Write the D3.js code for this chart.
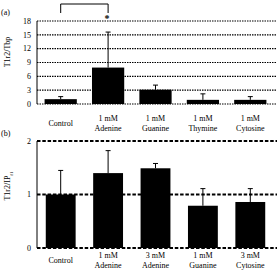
<!DOCTYPE html>
<html>
<head>
<meta charset="utf-8">
<script src="https://cdn.jsdelivr.net/npm/d3@7"></script>
<style>
  body { margin: 0; background: #fff; }
</style>
</head>
<body>
<div id="chart"></div>
<script>
// panel (a) data
const catsA = [["Control"], ["1 mM", "Adenine"], ["1 mM", "Guanine"], ["1 mM", "Thymine"], ["1 mM", "Cytosine"]];
const valsA = [1.05, 7.9, 3.1, 0.9, 0.9];
const errA = [1.6, 15.6, 4.1, 2.2, 1.6];
const ticksA = [0, 3, 6, 9, 12, 15, 18];

// panel (b) data
const catsB = [["Control"], ["1 mM", "Adenine"], ["3 mM", "Adenine"], ["1 mM", "Guanine"], ["3 mM", "Cytosine"]];
const valsB = [1.0, 1.4, 1.49, 0.79, 0.86];
const errB = [1.45, 1.82, 1.58, 1.11, 1.11];
const ticksB = [0, 1, 2];

const width = 280, height = 270;
const serif = "'Liberation Serif', 'Times New Roman', 'DejaVu Serif', serif";
const svg = d3.select("#chart").append("svg")
    .attr("width", width)
    .attr("height", height)
    .attr("font-family", serif);

function panel(opts) {
    const idx = opts.cats.map((d, i) => i);
    const x = d3.scaleBand()
        .domain(idx)
        .range([37, 274])
        .paddingInner(opts.pad)
        .paddingOuter(opts.pad / 2);
    const y = d3.scaleLinear()
        .domain([0, opts.ticks[opts.ticks.length - 1]])
        .range(opts.yRange);

    const g = svg.append("g");

    // grid lines (dashed)
    g.selectAll(".grid")
        .data(opts.ticks)
        .enter().append("line")
        .attr("x1", 37)
        .attr("x2", 277)
        .attr("y1", d => y(d))
        .attr("y2", d => y(d))
        .style("stroke", "#000")
        .style("stroke-width", opts.gridWidth)
        .style("stroke-dasharray", opts.dash);

    // left axis line
    g.append("line")
        .attr("x1", 37).attr("x2", 37)
        .attr("y1", y(0)).attr("y2", y(opts.ticks[opts.ticks.length - 1]))
        .style("stroke", "#000")
        .style("stroke-width", 1);

    // tick labels
    g.selectAll(".tick-label")
        .data(opts.ticks)
        .enter().append("text")
        .attr("x", 31)
        .attr("y", d => y(d))
        .attr("dy", "0.35em")
        .attr("text-anchor", "end")
        .attr("font-family", serif)
        .style("font-size", "8px")
        .text(d => d);

    // bars
    g.selectAll(".bar")
        .data(opts.vals)
        .enter().append("rect")
        .attr("x", (d, i) => x(i))
        .attr("y", d => y(d))
        .attr("width", x.bandwidth())
        .attr("height", d => y(0) - y(d))
        .style("fill", "#000");

    // error bars (upper only)
    const cap = 2.5;
    opts.err.forEach(function (e, i) {
        const cx = x(i) + x.bandwidth() / 2;
        g.append("line")
            .attr("x1", cx).attr("x2", cx)
            .attr("y1", y(opts.vals[i])).attr("y2", y(e))
            .style("stroke", "#000").style("stroke-width", 1);
        g.append("line")
            .attr("x1", cx - cap).attr("x2", cx + cap)
            .attr("y1", y(e)).attr("y2", y(e))
            .style("stroke", "#000").style("stroke-width", 1);
    });

    // category labels
    opts.cats.forEach(function (lines, i) {
        const cx = x(i) + x.bandwidth() / 2;
        const t = g.append("text")
            .attr("x", cx)
            .attr("text-anchor", "middle")
            .attr("font-family", serif)
            .style("font-size", "8px");
        if (lines.length === 1) {
            t.attr("y", opts.labelY + 5).attr("dy", "0.35em").text(lines[0]);
        } else {
            lines.forEach(function (l, k) {
                t.append("tspan")
                    .attr("x", cx)
                    .attr("y", opts.labelY + k * 10)
                    .attr("dy", "0.35em")
                    .text(l);
            });
        }
    });

    // panel letter
    g.append("text")
        .attr("x", 1)
        .attr("y", opts.letterY)
        .attr("dy", "0.35em")
        .attr("font-family", serif)
        .style("font-size", "8px")
        .text(opts.letter);

    return { g: g, x: x, y: y };
}

const a = panel({
    cats: catsA, vals: valsA, err: errA, ticks: ticksA,
    yRange: [104, 21], pad: 0.32, gridWidth: 1.2, dash: "1.5,1",
    labelY: 118, letter: "(a)", letterY: 12
});

const b = panel({
    cats: catsB, vals: valsB, err: errB, ticks: ticksB,
    yRange: [248, 141], pad: 0.37, gridWidth: 2, dash: "3.5,1.8",
    labelY: 255, letter: "(b)", letterY: 133
});

// y-axis titles
svg.append("text")
    .attr("transform", "translate(10,52) rotate(-90)")
    .attr("text-anchor", "middle")
    .attr("font-family", serif)
    .style("font-size", "8px")
    .text("T1r2/Tbp");

const yt = svg.append("text")
    .attr("transform", "translate(10,186) rotate(-90)")
    .attr("text-anchor", "middle")
    .attr("font-family", serif)
    .style("font-size", "8px")
    .text("T1r2/IP");
yt.append("tspan").attr("baseline-shift", "sub").style("font-size", "5px").text("f");
yt.append("tspan").attr("baseline-shift", "sub").style("font-size", "5px").text("1");

// significance bracket between Control and 1 mM Adenine in (a)
const x0 = a.x(0) + a.x.bandwidth() / 2;
const x1 = a.x(1) + a.x.bandwidth() / 2;
svg.append("path")
    .attr("d", `M${x0},13 V4 H${x1} V13`)
    .style("fill", "none")
    .style("stroke", "#000")
    .style("stroke-width", 1);
svg.append("text")
    .attr("x", x1 - 1)
    .attr("y", 22)
    .attr("text-anchor", "middle")
    .attr("font-family", serif)
    .style("font-size", "10px")
    .style("font-weight", "bold")
    .text("*");
</script>
</body>
</html>
